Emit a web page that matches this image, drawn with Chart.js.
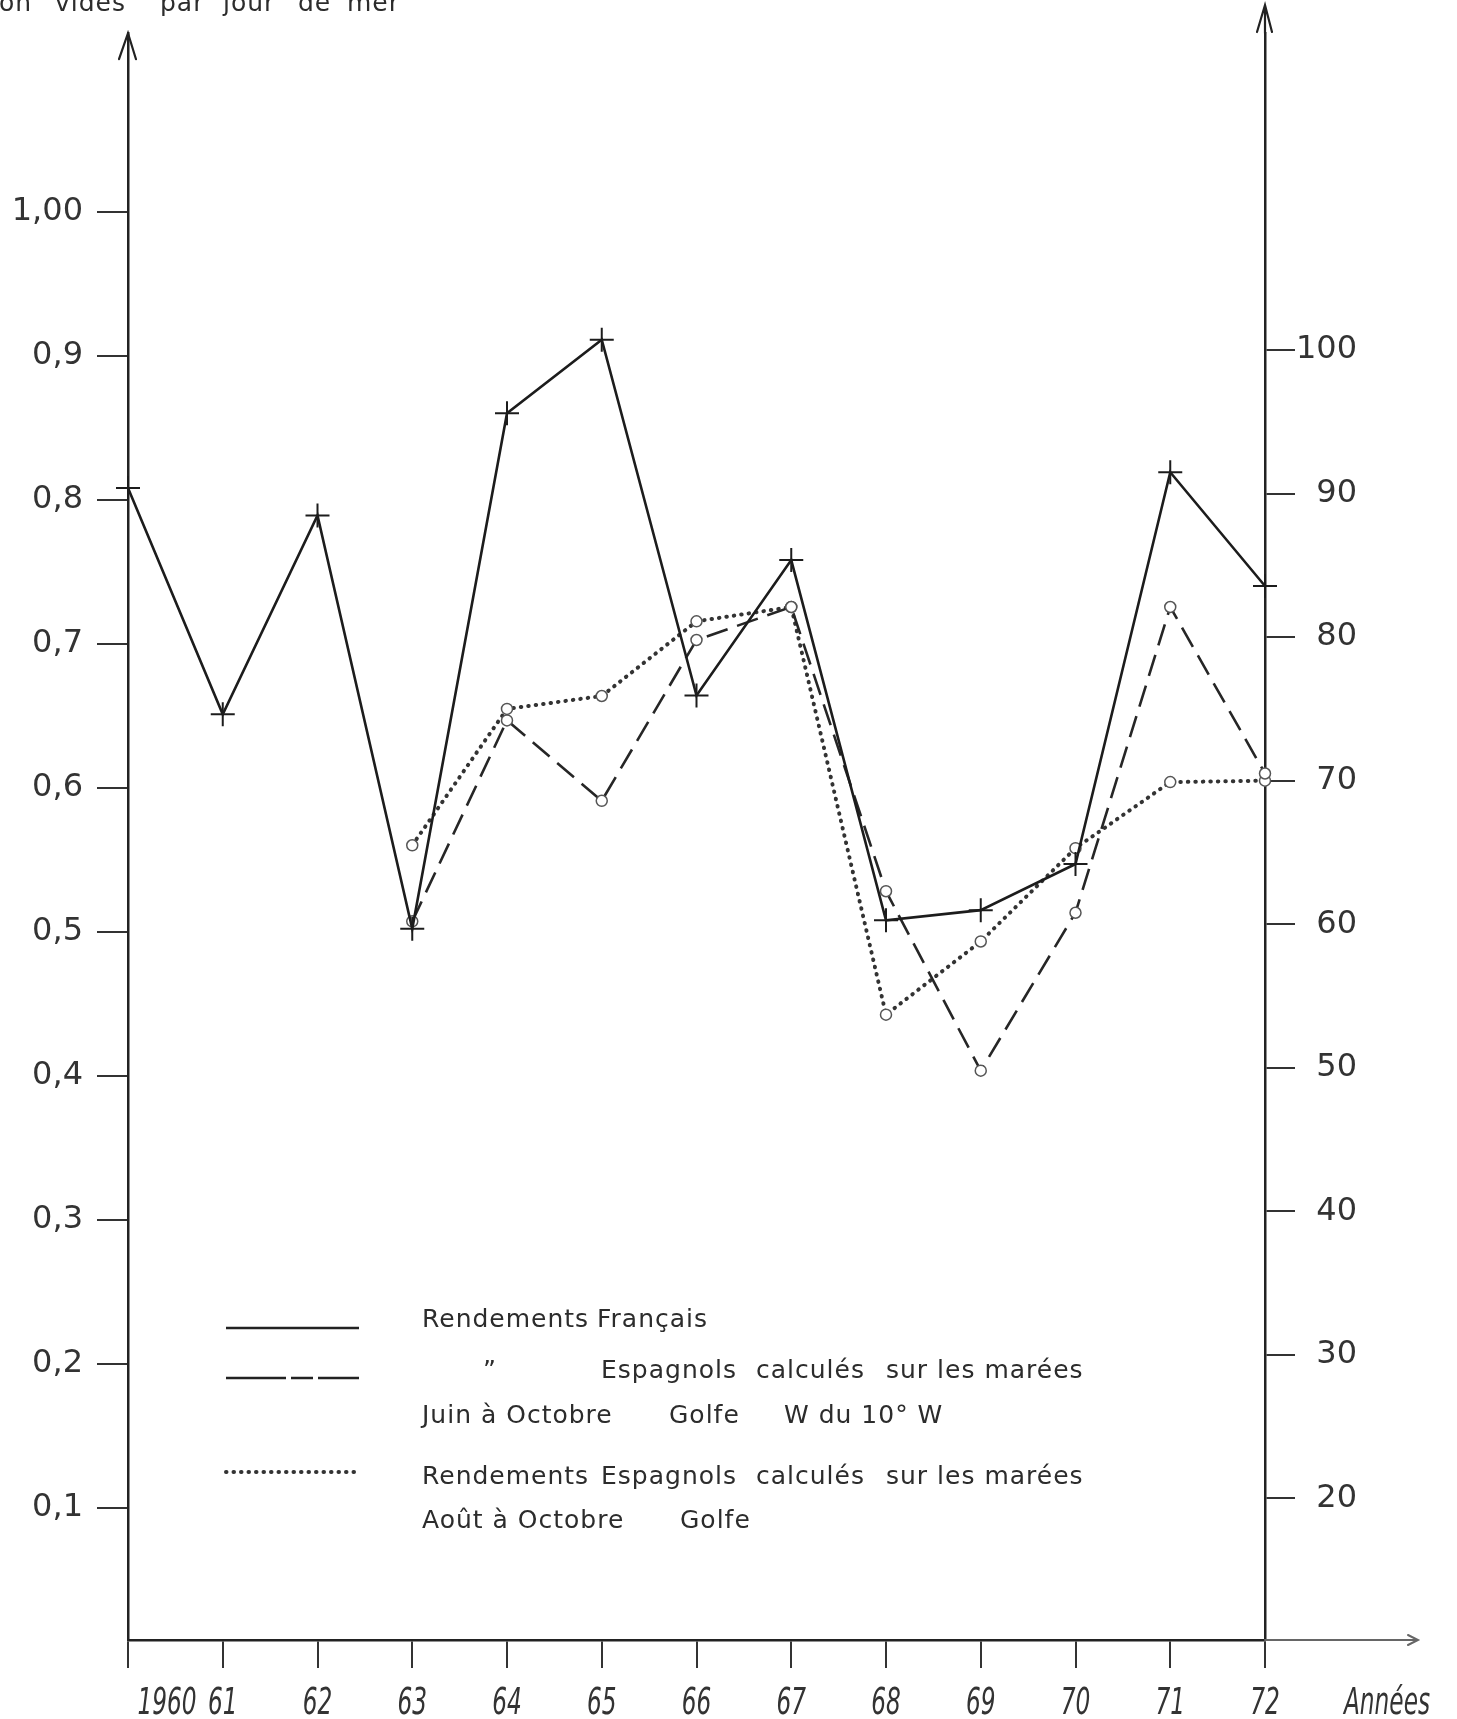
<!DOCTYPE html>
<html lang="fr">
<head>
<meta charset="utf-8">
<title>Rendements français et espagnols 1960–1972</title>
<script src="https://cdn.jsdelivr.net/npm/chart.js@4.4.1/dist/chart.umd.min.js"></script>
<style>
  html, body { margin: 0; padding: 0; background: #fff; }
  canvas { display: block; }
</style>
</head>
<body>
<canvas id="c" width="1457" height="1719"></canvas>
<script>
// Années de la série
const years = [1960, 1961, 1962, 1963, 1964, 1965, 1966, 1967, 1968, 1969, 1970, 1971, 1972];
const yearLabels = ['1960', '61', '62', '63', '64', '65', '66', '67', '68', '69', '70', '71', '72'];

// Rendements français (échelle de gauche)
const rendFrancais = [0.808, 0.651, 0.789, 0.502, 0.860, 0.911, 0.664, 0.758, 0.508, 0.515, 0.547, 0.819, 0.740];
// Rendements espagnols, juin à octobre, Golfe W du 10° W (échelle de droite)
const rendEspJuinOct = [null, null, null, 60.2, 74.2, 68.6, 79.8, 82.1, 62.3, 49.8, 60.8, 82.1, 70.5];
// Rendements espagnols, août à octobre, Golfe (échelle de droite)
const rendEspAoutOct = [null, null, null, 65.5, 75.0, 75.9, 81.1, 82.1, 53.7, 58.8, 65.3, 69.9, 70.0];

// Graduations des deux axes verticaux
const leftTicks = [0.1, 0.2, 0.3, 0.4, 0.5, 0.6, 0.7, 0.8, 0.9, 1.0];
const leftTickLabels = ['0,1', '0,2', '0,3', '0,4', '0,5', '0,6', '0,7', '0,8', '0,9', '1,00'];
const rightTicks = [20, 30, 40, 50, 60, 70, 80, 90, 100];
const rightTickLabels = ['20', '30', '40', '50', '60', '70', '80', '90', '100'];

const toPoints = (vals) => years
  .map((yr, i) => ({ x: yr, y: vals[i] }))
  .filter(p => p.y !== null);

const INK = '#222';
const TXT = '#2c2c2c';
const labelFont = '"DejaVu Sans", sans-serif';

// Cartouche, libellés d'années et flèches des axes
const decor = {
  id: 'decor',
  afterDraw(chart) {
    const { ctx, chartArea: a, scales } = chart;
    const xs = scales.x;
    ctx.save();

    // flèches des axes
    ctx.strokeStyle = INK;
    ctx.lineWidth = 2.2;
    ctx.lineCap = 'round';
    ctx.beginPath();
    ctx.moveTo(a.left - 9, a.top + 26); ctx.lineTo(a.left, a.top); ctx.lineTo(a.left + 8, a.top + 26);
    ctx.moveTo(a.right, a.top); ctx.lineTo(a.right, 5);
    ctx.moveTo(a.right - 8, 32); ctx.lineTo(a.right, 5); ctx.lineTo(a.right + 7, 32);
    ctx.stroke();

    // prolongement de l'axe des années
    ctx.strokeStyle = '#666';
    ctx.lineWidth = 2;
    ctx.beginPath();
    ctx.moveTo(a.right, a.bottom); ctx.lineTo(1418, a.bottom);
    ctx.moveTo(1408, a.bottom - 5); ctx.lineTo(1418, a.bottom); ctx.lineTo(1408, a.bottom + 5);
    ctx.stroke();

    // libellés des années
    ctx.fillStyle = '#333';
    ctx.textAlign = 'center';
    ctx.textBaseline = 'middle';
    ctx.font = 'italic 38px "Liberation Sans Narrow", "DejaVu Sans Condensed", sans-serif';
    const drawYear = (txt, x, y) => {
      ctx.save();
      ctx.translate(x, y);
      ctx.scale(0.68, 1);
      ctx.fillText(txt, 0, 0);
      ctx.restore();
    };
    years.forEach((yr, i) => {
      const px = xs.getPixelForValue(yr) + (i === 0 ? 39 : 0);
      drawYear(yearLabels[i], px, 1704);
    });
    drawYear('Années', 1387, 1704);

    // titre de l'axe de gauche (coupé en haut de la feuille)
    ctx.fillStyle = TXT;
    ctx.textAlign = 'left';
    ctx.textBaseline = 'alphabetic';
    ctx.font = '25px ' + labelFont;
    ctx.letterSpacing = '1px';
    [['on', -1], ['vidés', 55], ['par', 160], ['jour', 223], ['de', 298], ['mer', 347]]
      .forEach(([t, x]) => ctx.fillText(t, x, 10.5));

    // légende
    const sx0 = 226, sx1 = 359;
    ctx.strokeStyle = INK;
    ctx.lineWidth = 2.5;
    ctx.lineCap = 'butt';
    ctx.setLineDash([]);
    ctx.beginPath(); ctx.moveTo(sx0, 1328); ctx.lineTo(sx1, 1328); ctx.stroke();
    ctx.setLineDash([60, 5, 22, 5]);
    ctx.beginPath(); ctx.moveTo(sx0, 1378); ctx.lineTo(sx1, 1378); ctx.stroke();
    ctx.strokeStyle = '#333';
    ctx.lineWidth = 4;
    ctx.lineCap = 'round';
    ctx.setLineDash([0.5, 7]);
    ctx.beginPath(); ctx.moveTo(sx0, 1472); ctx.lineTo(sx1, 1472); ctx.stroke();
    ctx.setLineDash([]);

    ctx.fillStyle = TXT;
    ctx.font = '25px ' + labelFont;
    ctx.letterSpacing = '1px';
    const rows = [
      [1327, [['Rendements', 422], ['Français', 597]]],
      [1378, [['”', 483], ['Espagnols', 601], ['calculés', 756], ['sur les marées', 886]]],
      [1423, [['Juin à Octobre', 422], ['Golfe', 669], ['W du 10° W', 784]]],
      [1484, [['Rendements', 422], ['Espagnols', 601], ['calculés', 756], ['sur les marées', 886]]],
      [1528, [['Août à Octobre', 422], ['Golfe', 680]]]
    ];
    rows.forEach(([y, parts]) => parts.forEach(([t, x]) => ctx.fillText(t, x, y)));

    ctx.restore();
  }
};

new Chart(document.getElementById('c'), {
  type: 'line',
  data: {
    datasets: [
      {
        label: 'Rendements Français',
        data: toPoints(rendFrancais),
        yAxisID: 'y',
        borderColor: '#1c1c1c',
        borderWidth: 2.6,
        pointStyle: 'cross',
        pointRadius: 12,
        pointBorderWidth: 2,
        pointBorderColor: '#1c1c1c',
        tension: 0,
        clip: false
      },
      {
        label: 'Rendements Espagnols, juin à octobre, Golfe W du 10° W',
        data: toPoints(rendEspJuinOct),
        yAxisID: 'y1',
        borderColor: '#262626',
        borderWidth: 2.6,
        borderDash: [22, 10],
        pointStyle: 'circle',
        pointRadius: 5.5,
        pointBorderWidth: 1.5,
        pointBorderColor: '#555',
        pointBackgroundColor: '#fff',
        tension: 0,
        clip: false
      },
      {
        label: 'Rendements Espagnols, août à octobre, Golfe',
        data: toPoints(rendEspAoutOct),
        yAxisID: 'y1',
        borderColor: '#333',
        borderWidth: 4,
        borderDash: [0.5, 7],
        borderCapStyle: 'round',
        pointStyle: 'circle',
        pointRadius: 5.5,
        pointBorderWidth: 1.5,
        pointBorderColor: '#555',
        pointBackgroundColor: '#fff',
        tension: 0,
        clip: false
      }
    ]
  },
  options: {
    responsive: false,
    animation: false,
    devicePixelRatio: 1,
    layout: { padding: { top: 17, right: 100, left: 0, bottom: 0 } },
    plugins: { legend: { display: false }, tooltip: { enabled: false } },
    scales: {
      x: {
        type: 'linear',
        min: 1960,
        max: 1972,
        afterBuildTicks: (s) => { s.ticks = years.map(v => ({ value: v })); },
        afterFit: (s) => { s.height = 79; },
        border: { display: true, color: INK, width: 2.5 },
        grid: { display: true, drawOnChartArea: false, drawTicks: true, tickLength: 28, color: '#333', lineWidth: 2 },
        ticks: { display: false }
      },
      y: {
        position: 'left',
        min: 0.0083,
        max: 1.1238,
        afterBuildTicks: (s) => { s.ticks = leftTicks.map(v => ({ value: v })); },
        afterFit: (s) => { s.width = 128; },
        border: { display: true, color: INK, width: 2.5 },
        grid: { drawOnChartArea: false, drawTicks: true, tickLength: 31, color: '#333', lineWidth: 2 },
        ticks: {
          padding: 14,
          color: '#333',
          font: { family: labelFont, size: 32 },
          callback: (v, i) => leftTickLabels[i]
        }
      },
      y1: {
        position: 'right',
        min: 10.14,
        max: 122.07,
        afterBuildTicks: (s) => { s.ticks = rightTicks.map(v => ({ value: v })); },
        afterFit: (s) => { s.width = 92; },
        border: { display: true, color: INK, width: 2.5 },
        grid: { drawOnChartArea: false, drawTicks: true, tickLength: 30, color: '#333', lineWidth: 2 },
        ticks: {
          padding: 8,
          crossAlign: 'far',
          color: '#333',
          font: { family: labelFont, size: 32 },
          callback: (v, i) => rightTickLabels[i]
        }
      }
    }
  },
  plugins: [decor]
});
</script>
</body>
</html>
